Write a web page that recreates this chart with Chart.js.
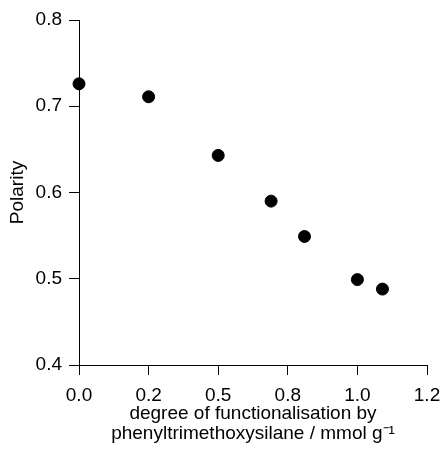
<!DOCTYPE html>
<html>
<head>
<meta charset="utf-8">
<script src="https://cdn.jsdelivr.net/npm/chart.js@4.4.1/dist/chart.umd.min.js"></script>
<style>
  html, body { margin: 0; padding: 0; background: #fff; }
  #wrap { width: 441px; height: 450px; }
</style>
</head>
<body>
<div id="wrap"><canvas id="chart-polarity" width="441" height="450"></canvas></div>
<script>
// degree of functionalisation (mmol/g) and polarity
const loading = [0, 0.25, 0.5, 0.69, 0.81, 1.0, 1.09]
const polarity = [0.726, 0.711, 0.643, 0.590, 0.549, 0.499, 0.488]

const xTicks = [0, 0.25, 0.5, 0.75, 1.0, 1.25]
const xTickLabels = ["0.0", "0.2", "0.5", "0.8", "1.0", "1.2"]
const yTicks = [0.4, 0.5, 0.6, 0.7, 0.8]

const font = { family: "'Liberation Sans', Arial, sans-serif", size: 19 }

const axisGrid = {
  display: true,
  drawOnChartArea: false,
  drawTicks: true,
  tickLength: 10,
  tickColor: "#000",
  color: "#000",
  lineWidth: 1
}

new Chart(document.getElementById("chart-polarity"), {
  type: "scatter",
  data: {
    datasets: [{
      data: loading.map((x, i) => ({ x, y: polarity[i] })),
      backgroundColor: "#000",
      borderColor: "#000",
      pointRadius: 6,
      pointHoverRadius: 6,
      clip: false
    }]
  },
  options: {
    responsive: false,
    animation: false,
    layout: { padding: { top: 20, right: 14, bottom: 0, left: 0 } },
    plugins: { legend: { display: false }, tooltip: { enabled: false } },
    scales: {
      x: {
        type: "linear",
        min: 0,
        max: 1.25,
        afterBuildTicks: s => { s.ticks = xTicks.map(v => ({ value: v })) },
        afterFit: s => {
          s.height = 85
          // keep the plot edge where the reference has it
          s.paddingRight = 14
          s.paddingLeft = 0
        },
        grid: axisGrid,
        border: { display: true, color: "#000", width: 1 },
        ticks: {
          color: "#000",
          font,
          padding: 9,
          maxRotation: 0,
          callback: v => xTickLabels[xTicks.indexOf(v)]
        },
        title: {
          display: true,
          text: ["degree of functionalisation by", "phenyltrimethoxysilane / mmol g\u207B\u00B9"],
          color: "#000",
          font: { ...font, lineHeight: 1.05 },
          padding: { top: 0, bottom: 6 }
        }
      },
      y: {
        type: "linear",
        min: 0.4,
        max: 0.8,
        afterBuildTicks: s => { s.ticks = yTicks.map(v => ({ value: v })) },
        afterFit: s => { s.width = 79 },
        grid: axisGrid,
        border: { display: true, color: "#000", width: 1 },
        ticks: {
          color: "#000",
          font,
          padding: 7,
          callback: v => v.toFixed(1)
        },
        title: {
          display: true,
          text: "Polarity",
          color: "#000",
          font,
          padding: { top: 6, bottom: 0 }
        }
      }
    }
  }
})
</script>
</body>
</html>
